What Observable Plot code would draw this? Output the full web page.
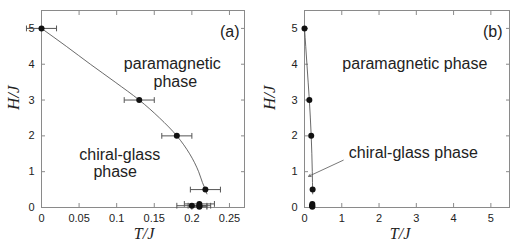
<!DOCTYPE html>
<html>
<head>
<meta charset="utf-8">
<script src="https://cdn.jsdelivr.net/npm/d3@7"></script>
<script src="https://cdn.jsdelivr.net/npm/@observablehq/plot@0.6"></script>
<style>
  html, body { margin: 0; padding: 0; background: #fff; }
  #row { display: flex; width: 516px; height: 248px; }
  svg { display: block; }
</style>
</head>
<body>
<div id="row"></div>
<script>
// Measured phase-boundary points (T/J, H/J, error in T/J)
const pointT = [0, 0.13, 0.18, 0.218, 0.2, 0.21, 0.21, 0.21];
const pointH = [5, 3, 2, 0.5, 0.05, 0.1, 0.05, 0.02];
const pointErr = [0.02, 0.02, 0.02, 0.02, 0.02, 0.02, 0.015, 0.01];

// Guide-to-the-eye curve
const curveH = [5, 4.5, 4, 3.5, 3, 2.5, 2, 1.5, 1, 0.7, 0.5, 0.38];
const curveT = [0, 0.033, 0.065, 0.098, 0.13, 0.157, 0.18, 0.197, 0.209, 0.214, 0.218, 0.22];

// Tick labels
const xTicksA = [0, 0.05, 0.1, 0.15, 0.2, 0.25];
const xTicksB = [0, 1, 2, 3, 4, 5];
const yTicks = [0, 1, 2, 3, 4, 5];

const points = pointT.map((T, i) => ({T, H: pointH[i], e: pointErr[i]}));
const curve = curveH.map((H, i) => ({T: curveT[i], H}));

const frameColor = "#8a8a8a";
const ink = "#222";
const capShape = {draw(ctx, l) { ctx.moveTo(0, 0); ctx.lineTo(0, -l); }};

function common(xTicks) {
  return [
    Plot.axisX(xTicks, {anchor: "bottom", tickSize: -4, tickFormat: () => "", stroke: frameColor, label: null}),
    Plot.axisX(xTicks, {anchor: "top", tickSize: -4, tickFormat: () => "", stroke: frameColor, label: null}),
    Plot.axisY(yTicks, {anchor: "left", tickSize: -4, tickFormat: () => "", stroke: frameColor, label: null}),
    Plot.axisY(yTicks, {anchor: "right", tickSize: -4, tickFormat: () => "", stroke: frameColor, label: null}),
    Plot.axisX(xTicks, {anchor: "bottom", tickSize: 0, tickPadding: 7, tickFormat: d => String(d), label: null, fill: ink, fontSize: 11}),
    Plot.axisY(yTicks, {anchor: "left", tickSize: 0, tickPadding: 7, tickFormat: d => String(d), label: null, fill: ink, fontSize: 11}),
    Plot.frame({stroke: frameColor})
  ];
}

// Panel (a)
const annotA = [
  {text: "paramagnetic", T: 0.174, H: 4.02},
  {text: "phase", T: 0.178, H: 3.52},
  {text: "chiral-glass", T: 0.104, H: 1.48},
  {text: "phase", T: 0.098, H: 1.0}
];

const pA = Plot.plot({
  width: 258, height: 248,
  marginLeft: 41, marginRight: 14, marginTop: 10, marginBottom: 41,
  style: {fontFamily: "Liberation Sans, Arial, sans-serif", fontSize: "11px", color: ink, background: "white"},
  x: {domain: [0, 0.27]},
  y: {domain: [0, 5.5]},
  marks: [
    ...common(xTicksA),
    Plot.line(curve, {x: "T", y: "H", curve: "monotone-y", stroke: "#444", strokeWidth: 0.8}),
    Plot.link(points, {x1: d => d.T - d.e, x2: d => d.T + d.e, y1: "H", y2: "H", stroke: "#555", strokeWidth: 1}),
    Plot.vector(points, {x: d => d.T - d.e, y: "H", length: 5, anchor: "middle", shape: capShape, stroke: "#555", strokeWidth: 1}),
    Plot.vector(points, {x: d => d.T + d.e, y: "H", length: 5, anchor: "middle", shape: capShape, stroke: "#555", strokeWidth: 1}),
    Plot.dot(points, {x: "T", y: "H", r: 3, fill: "#111"}),
    Plot.text(annotA, {x: "T", y: "H", text: "text", fontSize: 16, fill: ink}),
    Plot.text(["(a)"], {frameAnchor: "top-right", dx: -5, dy: 15, textAnchor: "end", fontSize: 16, fill: ink}),
    Plot.text(["T/J"], {frameAnchor: "bottom", dx: 1, dy: 31, fontFamily: "Liberation Serif, serif", fontStyle: "italic", fontSize: 16, fill: ink}),
    Plot.text(["H/J"], {frameAnchor: "left", dx: -28, dy: 1, rotate: -90, fontFamily: "Liberation Serif, serif", fontStyle: "italic", fontSize: 17, fill: ink})
  ]
});

// Panel (b)
const annotB = [
  {text: "paramagnetic phase", T: 2.96, H: 4.0},
  {text: "chiral-glass phase", T: 2.92, H: 1.53}
];
const arrowB = [{T1: 1.04, H1: 1.32, T2: 0.11, H2: 0.87}];

const pB = Plot.plot({
  width: 258, height: 248,
  marginLeft: 46, marginRight: 7, marginTop: 10, marginBottom: 41,
  style: {fontFamily: "Liberation Sans, Arial, sans-serif", fontSize: "11px", color: ink, background: "white"},
  x: {domain: [0, 5.5]},
  y: {domain: [0, 5.5]},
  marks: [
    ...common(xTicksB),
    Plot.line(curve, {x: "T", y: "H", curve: "monotone-y", stroke: "#444", strokeWidth: 0.8}),
    Plot.dot(points, {x: "T", y: "H", r: 3, fill: "#111"}),
    Plot.arrow(arrowB, {x1: "T1", y1: "H1", x2: "T2", y2: "H2", stroke: "#555", strokeWidth: 0.8, headLength: 5}),
    Plot.text(annotB, {x: "T", y: "H", text: "text", fontSize: 16, fill: ink}),
    Plot.text(["(b)"], {frameAnchor: "top-right", dx: -7, dy: 15, textAnchor: "end", fontSize: 16, fill: ink}),
    Plot.text(["T/J"], {frameAnchor: "bottom", dx: -7, dy: 31, fontFamily: "Liberation Serif, serif", fontStyle: "italic", fontSize: 16, fill: ink}),
    Plot.text(["H/J"], {frameAnchor: "left", dx: -35, dy: 1, rotate: -90, fontFamily: "Liberation Serif, serif", fontStyle: "italic", fontSize: 17, fill: ink})
  ]
});

const row = document.getElementById("row");
row.appendChild(pA);
row.appendChild(pB);
</script>
</body>
</html>
